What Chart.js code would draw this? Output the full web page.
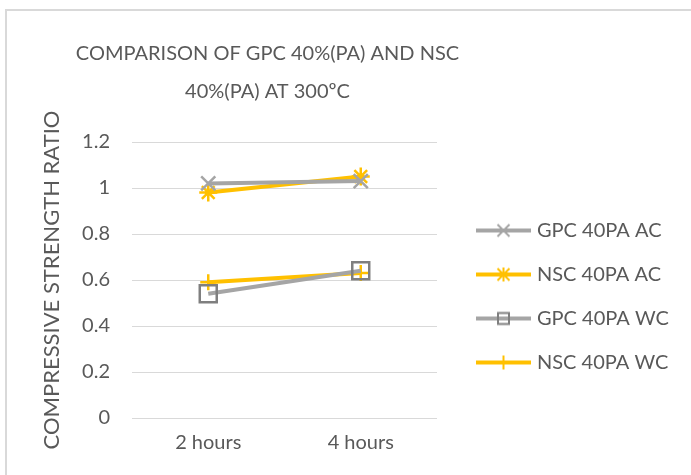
<!DOCTYPE html>
<html>
<head>
<meta charset="utf-8">
<script src="https://cdn.jsdelivr.net/npm/chart.js@4.4.1/dist/chart.umd.min.js"></script>
<style>
    html, body { margin: 0; padding: 0; background: #ffffff; overflow: hidden; }
    #frame { position: absolute; left: 5px; top: 9px; width: 800px; height: 600px; border: 2px solid #d9d9d9; }
    #wrap { position: absolute; left: 0; top: 0; width: 691px; height: 475px; }
</style>
</head>
<body>
<div id="frame"></div>
<div id="wrap"><canvas id="chart" width="691" height="475"></canvas></div>
<script>
"use strict";

// Chart data
const categories = ['2 hours', '4 hours'];
const seriesNames = ['GPC 40PA AC', 'NSC 40PA AC', 'GPC 40PA WC', 'NSC 40PA WC'];
const gpcAC = [1.02, 1.03];
const nscAC = [0.98, 1.05];
const gpcWC = [0.54, 0.64];
const nscWC = [0.59, 0.63];
const yMin = 0;
const yMax = 1.2;
const yStep = 0.2;
const titleLines = ['COMPARISON OF GPC 40%(PA) AND NSC', '40%(PA) AT 300ºC'];
const yTitle = 'COMPRESSIVE STRENGTH RATIO';

const GREY = '#a5a5a5';
const GREY_DARK = '#7f7f7f';
const GOLD = '#ffc000';
const TEXT = '#595959';

// Excel style legend swatch: line with the marker in the middle
function legendIcon(lineColor, marker, markerColor) {
    const c = document.createElement('canvas');
    c.width = 63;
    c.height = 20;
    const g = c.getContext('2d');
    g.strokeStyle = lineColor;
    g.lineWidth = 4;
    g.beginPath();
    g.moveTo(8, 10);
    g.lineTo(63, 10);
    g.stroke();

    const x = 35.5, y = 10, r = 6;
    g.strokeStyle = markerColor;
    g.lineWidth = 2;
    g.beginPath();
    if (marker === 'x' || marker === 'star') {
        g.moveTo(x - r, y - r); g.lineTo(x + r, y + r);
        g.moveTo(x + r, y - r); g.lineTo(x - r, y + r);
    }
    if (marker === 'star' || marker === 'plus') {
        g.moveTo(x, y - r - 1); g.lineTo(x, y + r + 1);
    }
    if (marker === 'square') {
        g.rect(x - 5.5, y - 5.5, 11, 11);
    }
    g.stroke();
    return c;
}

const legendIcons = [
    legendIcon(GREY, 'x', GREY),
    legendIcon(GOLD, 'star', GOLD),
    legendIcon(GREY, 'square', GREY_DARK),
    legendIcon(GOLD, 'plus', GOLD)
];

// nudge title and legend to where Excel put them
const placeBlocks = {
    id: 'placeBlocks',
    afterLayout(chart) {
        const t = chart.titleBlock;
        t.left = 0;
        t.right = 535;
        const lg = chart.legend;
        lg.left = 472 - 24;
        lg.right = 691;
        lg.width = lg.right - lg.left;
        lg.top += 59;
        lg.bottom += 59;
        lg.height = lg.bottom - lg.top;
    }
};

function makeSet(label, data, color, style, radius, pointColor) {
    return {
        label: label,
        data: data,
        borderColor: color,
        backgroundColor: color,
        borderWidth: 4,
        tension: 0,
        pointStyle: style,
        pointRadius: radius,
        pointHoverRadius: radius,
        pointBorderWidth: 2.5,
        pointBorderColor: pointColor,
        pointBackgroundColor: 'transparent'
    };
}

const ctx = document.getElementById('chart').getContext('2d');

new Chart(ctx, {
    type: 'line',
    data: {
        labels: categories,
        datasets: [
            makeSet(seriesNames[0], gpcAC, GREY, 'crossRot', 10, GREY),
            makeSet(seriesNames[1], nscAC, GOLD, 'star', 9, GOLD),
            makeSet(seriesNames[2], gpcWC, GREY, 'rect', 12, GREY_DARK),
            makeSet(seriesNames[3], nscWC, GOLD, 'cross', 8, GOLD)
        ]
    },
    options: {
        responsive: false,
        animation: false,
        layout: {
            padding: { top: 0, left: 0, right: 48, bottom: 0 }
        },
        plugins: {
            title: {
                display: true,
                text: titleLines,
                color: TEXT,
                font: { family: 'Lato', size: 20, weight: '400', lineHeight: 1.9 },
                padding: { top: 35, bottom: 31 }
            },
            legend: {
                display: true,
                position: 'right',
                maxWidth: 206,
                labels: {
                    color: TEXT,
                    font: { family: 'Lato', size: 20 },
                    usePointStyle: true,
                    pointStyleWidth: 55,
                    padding: 24,
                    generateLabels: chart =>
                        Chart.defaults.plugins.legend.labels.generateLabels(chart).map((item, i) => {
                            item.pointStyle = legendIcons[i];
                            return item;
                        })
                }
            },
            tooltip: { enabled: false }
        },
        scales: {
            x: {
                offset: true,
                grid: { display: false, drawTicks: false },
                border: { display: false },
                ticks: { color: TEXT, font: { family: 'Lato', size: 20 }, padding: 13 },
                afterFit: s => { s.height = 57; }
            },
            y: {
                min: yMin,
                max: yMax,
                grid: { color: '#d9d9d9', lineWidth: 1, drawTicks: false },
                border: { display: false },
                ticks: {
                    stepSize: yStep,
                    color: TEXT,
                    font: { family: 'Lato', size: 20 },
                    padding: 22,
                    callback: v => String(Number(v.toFixed(1)))
                },
                title: {
                    display: true,
                    text: yTitle,
                    color: TEXT,
                    font: { family: 'Lato', size: 22 },
                    padding: { top: 39, bottom: 0 }
                },
                afterFit: s => { s.width = 132; }
            }
        }
    },
    plugins: [placeBlocks]
});
</script>
</body>
</html>
